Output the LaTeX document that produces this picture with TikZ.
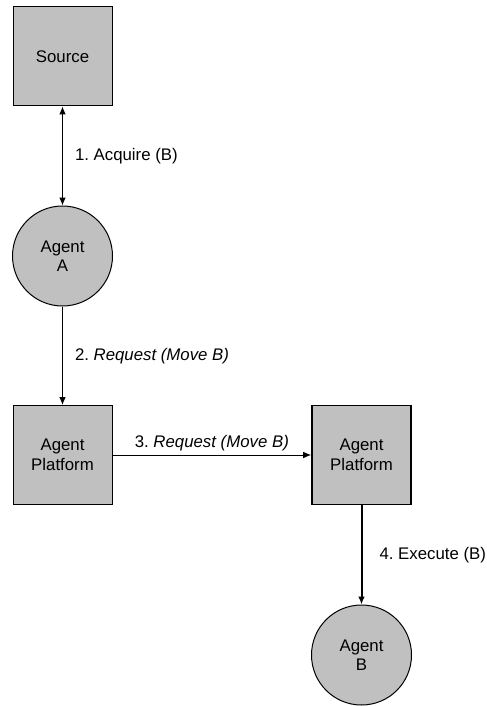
\documentclass[tikz,border=0pt]{standalone}
\usepackage{fontspec}
\setmainfont{Liberation Sans}
\usetikzlibrary{arrows.meta}
\frenchspacing
\definecolor{boxgray}{RGB}{192,192,192}
\tikzset{
  box/.style={draw, fill=boxgray, minimum size=74.25pt, align=center, line width=0.75pt},
  agent/.style={circle, draw, fill=boxgray, minimum size=75pt, inner sep=0pt, align=center, line width=0.75pt},
  flow/.style={-{Latex[length=6pt,width=5pt]}, line width=0.75pt},
  steplabel/.style={inner sep=0pt}
}

\begin{document}
\begin{tikzpicture}[x=0.75pt,y=-0.75pt, every node/.style={font=\fontsize{12.6}{14.6}\selectfont}]
  \useasboundingbox (0,0) rectangle (486,706);
  \node[box] (source) at (62.5,56.5) {Source};
  \node[agent] (agentA) at (62.5,256) {Agent\\A};
  \node[box] (platformA) at (62.5,455) {Agent\\Platform};
  \node[box, line width=1.2pt] (platformB) at (361.5,455) {Agent\\Platform};
  \node[agent] (agentB) at (361.5,655) {Agent\\B};
  \draw[flow, {Latex[length=6pt,width=5pt]}-{Latex[length=6pt,width=5pt]}] (agentA) -- node[steplabel, right=9pt] {1. Acquire (B)} (source);
  \draw[flow] (agentA) -- node[steplabel, right=9pt] {2. \textit{Request (Move B)}} (platformA);
  \draw[flow] (platformA) -- node[steplabel, above=3pt] {3. \textit{Request (Move B)}} (platformB);
  \draw[flow, line width=1.5pt] (platformB) -- node[steplabel, right=12.75pt] {4. Execute (B)} (agentB);
\end{tikzpicture}
\end{document}
